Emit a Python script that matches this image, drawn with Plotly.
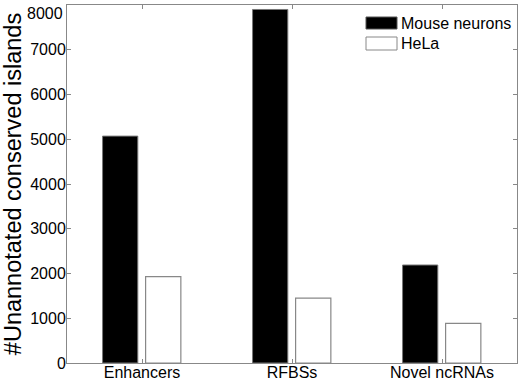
import plotly.graph_objects as go

categories = ["Enhancers", "RFBSs", "Novel ncRNAs"]
series_names = ["Mouse neurons", "HeLa"]
mouse_neurons = [5070, 7900, 2190]
hela = [1930, 1450, 885]
y_ticks = [0, 1000, 2000, 3000, 4000, 5000, 6000, 7000, 8000]

xpos = list(range(1, len(categories) + 1))
FONT = "Liberation Sans, Arial, Helvetica, sans-serif"

L, R, T, B = 67, 3, 5, 19
W, H = 520, 382
PW, PH = W - L - R, H - T - B

fig = go.Figure()
fig.add_trace(go.Bar(
    x=xpos, y=mouse_neurons, name=series_names[0],
    width=0.235, offset=-0.263,
    marker=dict(color="black", line=dict(color="#777777", width=1)),
))
fig.add_trace(go.Bar(
    x=xpos, y=hela, name=series_names[1],
    width=0.235, offset=0.024,
    marker=dict(color="white", line=dict(color="#888888", width=1.2)),
))

# MATLAB-style legend (no border, wide swatches)
def px_x(px):
    return (px - L) / PW

def px_y(py):
    return (H - B - py) / PH

legend_items = [
    (series_names[0], "black", "#555555", 17, 29, 23),
    (series_names[1], "white", "#888888", 37, 50, 43),
]
shapes = []
annotations = []
for name, fill, edge, y0, y1, yc in legend_items:
    shapes.append(dict(
        type="rect", xref="paper", yref="paper",
        x0=px_x(366), x1=px_x(397), y0=px_y(y1), y1=px_y(y0),
        fillcolor=fill, line=dict(color=edge, width=1), layer="above",
    ))
    annotations.append(dict(
        text=name, xref="paper", yref="paper",
        x=px_x(399), y=px_y(yc), xanchor="left", yanchor="middle",
        showarrow=False, font=dict(size=16, family=FONT, color="black"),
    ))

# top tick label is nudged down to stay inside the figure (as in the original)
tick_text = [str(v) for v in y_ticks]
top_label = tick_text[-1]
tick_text[-1] = ""
annotations.append(dict(
    text=top_label, xref="paper", yref="y", x=0, y=y_ticks[-1],
    xanchor="right", yanchor="top", xshift=-2, yshift=2,
    showarrow=False, font=dict(size=16, family=FONT, color="black"),
))

fig.update_layout(
    width=W, height=H,
    margin=dict(l=L, r=R, t=T, b=B),
    paper_bgcolor="white", plot_bgcolor="white",
    barmode="overlay",
    font=dict(family=FONT, size=16, color="black"),
    showlegend=False,
    shapes=shapes,
    annotations=annotations,
)
fig.update_xaxes(
    range=[0.5, 3.5], tickmode="array", tickvals=xpos, ticktext=categories,
    showline=True, linecolor="#888888", linewidth=1, mirror="ticks",
    ticks="inside", ticklen=4, tickcolor="#888888",
    showgrid=False, zeroline=False, automargin=False,
    tickfont=dict(size=16, family=FONT),
    ticklabelstandoff=-5, ticklabeloverflow="allow",
)
fig.update_yaxes(
    range=[0, 8000], tickmode="array", tickvals=y_ticks, ticktext=tick_text,
    showline=True, linecolor="#888888", linewidth=1, mirror="ticks",
    ticks="inside", ticklen=4, tickcolor="#888888",
    showgrid=False, zeroline=False, automargin=False,
    tickfont=dict(size=16, family=FONT),
    ticklabelstandoff=-3, ticklabeloverflow="allow",
    title=dict(text="#Unannotated conserved islands",
               font=dict(size=23.5, family=FONT), standoff=4),
)

fig.write_html(
    "out.html",
    config={"displayModeBar": False},
    post_script="document.body.style.margin='0';document.body.style.padding='0';",
)
